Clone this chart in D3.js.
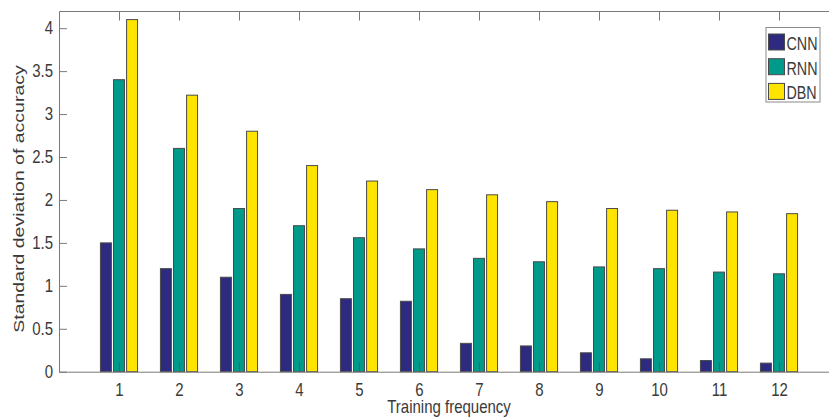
<!DOCTYPE html>
<html>
<head>
<meta charset="utf-8">
<script src="https://cdn.jsdelivr.net/npm/d3@7"></script>
<style>
  html, body { margin: 0; padding: 0; background: #fff; }
  svg { display: block; }
  text { font-family: "Liberation Sans", Arial, sans-serif; fill: #3a3a3a; }
</style>
</head>
<body>
<svg id="chart" width="829" height="419"></svg>
<script>
const categories = [1, 2, 3, 4, 5, 6, 7, 8, 9, 10, 11, 12];
const seriesNames = ["CNN", "RNN", "DBN"];
const cnn = [1.5, 1.2, 1.1, 0.9, 0.85, 0.82, 0.33, 0.30, 0.22, 0.15, 0.13, 0.10];
const rnn = [3.4, 2.6, 1.9, 1.7, 1.56, 1.43, 1.32, 1.28, 1.22, 1.2, 1.16, 1.14];
const dbn = [4.1, 3.22, 2.8, 2.4, 2.22, 2.12, 2.06, 1.98, 1.9, 1.88, 1.86, 1.84];
const yTicks = [0, 0.5, 1, 1.5, 2, 2.5, 3, 3.5, 4];
const xLabel = "Training frequency";
const yLabel = "Standard deviation of accuracy";

const colors = ["#2d2a80", "#009a8b", "#ffe400"];
const series = [cnn, rnn, dbn];

const svg = d3.select("#chart");
const pLeft = 59, pRight = 839, pTop = 11, pBottom = 371.7;
const x = d3.scaleLinear().domain([0, 13]).range([pLeft, pRight]);
const y = d3.scaleLinear().domain([0, 4.2]).range([pBottom, pTop]);

const offsets = [-0.218, 0, 0.218];
const barW = 0.183;
const vs = 1.25; // vertical stretch of text in the reference

// bars
series.forEach((vals, si) => {
  svg.append("g").selectAll("rect")
    .data(vals.map((v, i) => ({ c: categories[i], v })))
    .join("rect")
    .attr("x", d => x(d.c + offsets[si] - barW / 2))
    .attr("width", d => x(barW) - x(0))
    .attr("y", d => y(d.v))
    .attr("height", d => y(0) - y(d.v))
    .attr("fill", colors[si])
    .attr("stroke", "#4a4a4a")
    .attr("stroke-width", 1);
});

const axisColor = "#7a7a7a";

// left axis
const gy = svg.append("g").attr("transform", `translate(${pLeft},0)`)
  .call(d3.axisLeft(y).tickValues(yTicks).tickSizeInner(-8).tickSizeOuter(0).tickPadding(6)
    .tickFormat(d => d3.format("~g")(d)));
gy.select(".domain").attr("stroke", axisColor);
gy.selectAll(".tick line").attr("stroke", axisColor);
gy.selectAll(".tick text")
  .attr("font-size", 15)
  .attr("dy", null)
  .attr("x", null)
  .attr("transform", "translate(-6,5.3) scale(1," + vs + ")")
  .style("font-family", "'Liberation Sans', Arial, sans-serif")
  .attr("fill", "#3a3a3a");

// bottom axis
const gx = svg.append("g").attr("transform", `translate(0,${pBottom})`)
  .call(d3.axisBottom(x).tickValues(categories).tickSizeInner(-9.5).tickSizeOuter(0).tickPadding(0));
gx.select(".domain").attr("stroke", axisColor);
gx.selectAll(".tick line").attr("stroke", "#555");
gx.selectAll(".tick text")
  .attr("font-size", 15)
  .attr("dy", null)
  .attr("y", null)
  .attr("transform", "translate(0,24.6) scale(1," + vs + ")")
  .style("font-family", "'Liberation Sans', Arial, sans-serif")
  .attr("fill", "#3a3a3a");

// top axis
const gt = svg.append("g").attr("transform", `translate(0,${pTop})`)
  .call(d3.axisTop(x).tickValues(categories).tickSizeInner(-9.5).tickSizeOuter(0).tickFormat(""));
gt.select(".domain").attr("stroke", axisColor);
gt.selectAll(".tick line").attr("stroke", axisColor);

// axis labels
svg.append("text")
  .attr("transform", `translate(${(pLeft + pRight) / 2},413) scale(1,${vs})`)
  .attr("text-anchor", "middle")
  .attr("font-size", 15)
  .text(xLabel);

svg.append("text")
  .attr("transform", `translate(23.5,199) scale(1,1.3) rotate(-90)`)
  .attr("text-anchor", "middle")
  .attr("font-size", 15)
  .text(yLabel);

// legend
const lg = svg.append("g");
lg.append("rect")
  .attr("x", 766).attr("y", 27.5).attr("width", 54).attr("height", 74.5)
  .attr("fill", "#fff").attr("stroke", "#8a8a8a").attr("stroke-width", 1);
seriesNames.forEach((name, i) => {
  const yy = 34 + i * 24.7;
  lg.append("rect")
    .attr("x", 768.5).attr("y", yy).attr("width", 16).attr("height", 16)
    .attr("fill", colors[i]).attr("stroke", "#4a4a4a");
  lg.append("text")
    .attr("transform", `translate(786.5,${yy + 16}) scale(1,1.3)`)
    .attr("font-size", 14.3)
    .text(name);
});
</script>
</body>
</html>
